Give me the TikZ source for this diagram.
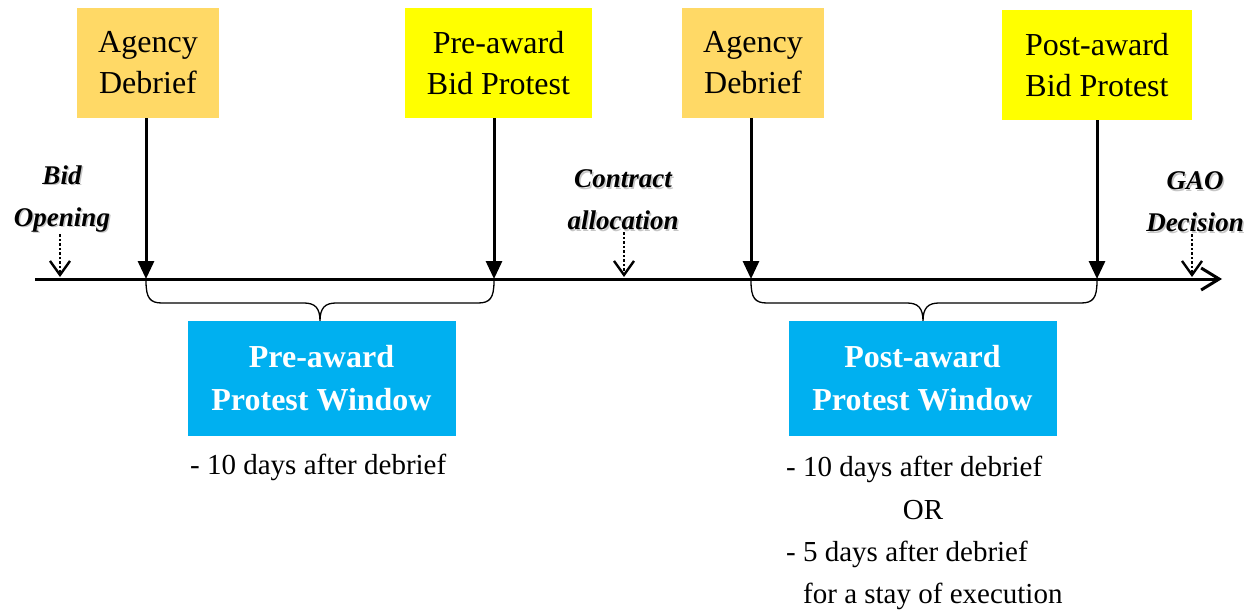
\documentclass[tikz,border=0pt]{standalone}
\usepackage{fontspec}
\setmainfont{Liberation Serif}
\usetikzlibrary{arrows.meta,calc}
\definecolor{debriefcol}{HTML}{FFD966}
\definecolor{protestcol}{HTML}{FFFF00}
\definecolor{windowcol}{HTML}{00B0F0}
\begin{document}
\begin{tikzpicture}[x=1pt,y=-1pt,
  eventbox/.style={draw=none, minimum height=110pt, inner sep=0pt, align=center,
    font=\fontsize{32}{41}\selectfont},
  windowbox/.style={fill=windowcol, minimum width=268pt, minimum height=115pt, inner sep=0pt,
    align=center, text=white, font=\fontsize{32}{43}\selectfont\bfseries},
  milestone/.style={align=center, inner sep=2pt, font=\fontsize{27}{42}\selectfont\bfseries\itshape},
  milestoneshadow/.style={milestone, text=gray!45},
  note/.style={anchor=base west, inner sep=0pt, font=\fontsize{29}{35}\selectfont},
  hit/.style={line width=3pt, -{Triangle[length=18pt,width=16pt]}},
  hint/.style={line width=2.4pt, dash pattern=on 2.5pt off 2pt,
    -{Straight Barb[length=14pt,width=20pt,line width=2.4pt]}},
  bracket/.style={line width=1.3pt}
]
\useasboundingbox (0,0) rectangle (1256,613);

% time axis
\coordinate (axL) at (35,279);
\coordinate (axR) at (1222,279);
\draw[line width=3pt, -{Straight Barb[length=18pt,width=22pt,line width=3pt]}] (axL) -- (axR);

% event boxes above the axis
\node[eventbox, fill=debriefcol, minimum width=142pt] (ad1) at (148,63) {Agency\\Debrief};
\node[eventbox, fill=protestcol, minimum width=187pt] (pb1) at (498.5,63) {Pre-award\\Bid Protest};
\node[eventbox, fill=debriefcol, minimum width=142pt] (ad2) at (753,63) {Agency\\Debrief};
\node[eventbox, fill=protestcol, minimum width=190pt] (pb2) at (1097,65) {Post-award\\Bid Protest};

% points on the axis
\coordinate (e1) at (146,279);
\coordinate (e2) at (494,279);
\coordinate (e3) at (751,279);
\coordinate (e4) at (1097,279);
\draw[hit] (e1 |- ad1.south) -- (e1);
\draw[hit] (e2 |- pb1.south) -- (e2);
\draw[hit] (e3 |- ad2.south) -- (e3);
\draw[hit] (e4 |- pb2.south) -- (e4);

% milestones
\node[milestoneshadow] (bids) at (63.5,200.5) {Bid\\Opening};
\node[milestone] (bid) at (62,199) {Bid\\Opening};
\node[milestoneshadow] (cas) at (624.5,201.5) {Contract\\allocation};
\node[milestone] (ca) at (623,200) {Contract\\allocation};
\node[milestoneshadow] (gaos) at (1196.5,203.5) {GAO\\Decision};
\node[milestone] (gao) at (1195,202) {GAO\\Decision};

\coordinate (m1) at (60,277);
\coordinate (m2) at (624,277);
\coordinate (m3) at (1192,277);
\draw[hint] (m1 |- bid.south) -- (m1);
\draw[hint] (m2 |- ca.south) -- (m2);
\draw[hint] (m3 |- gao.south) -- (m3);

% braces spanning the protest windows
\draw[bracket] (e1) ++(0,2) .. controls (146,298) and (150,303) .. (162,303) -- (304,303)
  .. controls (315,303) and (320,308) .. (320,321)
  .. controls (320,308) and (325,303) .. (336,303) -- (478,303)
  .. controls (490,303) and (494,298) .. (494,281);
\draw[bracket] (e3) ++(0,2) .. controls (751,298) and (755,303) .. (767,303) -- (907,303)
  .. controls (918,303) and (923,308) .. (923,321)
  .. controls (923,308) and (928,303) .. (939,303) -- (1081,303)
  .. controls (1093,303) and (1097,298) .. (1097,281);

% protest windows
\node[windowbox] (w1) at (321.5,378.5) {Pre-award\\Protest Window};
\node[windowbox] (w2) at (922.5,378.5) {Post-award\\Protest Window};

% deadlines
\node[note] (n1) at (190,474) {- 10 days after debrief};
\node[note] (n2) at (786,476) {- 10 days after debrief};
\node[note, anchor=base] (n3) at (923,519) {OR};
\node[note] (n4) at (786,561) {- 5 days after debrief};
\node[note] (n5) at (803,603) {for a stay of execution};
\end{tikzpicture}
\end{document}
